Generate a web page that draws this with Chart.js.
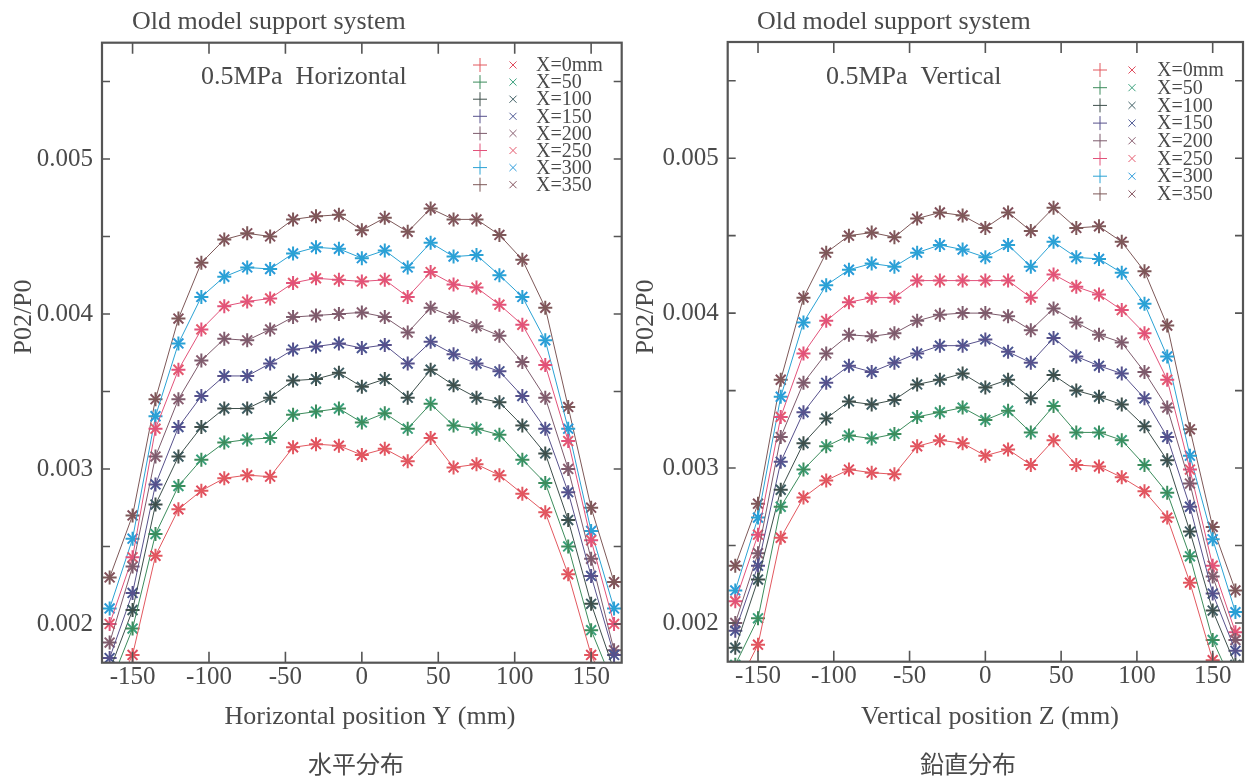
<!DOCTYPE html>
<html>
<head>
<meta charset="utf-8">
<script src="https://cdn.jsdelivr.net/npm/chart.js@4/dist/chart.umd.min.js"></script>
<style>
  html, body { margin: 0; padding: 0; background: #fff; }
  #wrap { position: relative; width: 1245px; height: 781px; overflow: hidden; }
  .panel { position: absolute; top: 0; }
  #left { left: 0; }
  #right { left: 630px; }
</style>
</head>
<body>
<div id="wrap">
  <div class="panel" id="left"><canvas id="chartH" width="630" height="781"></canvas></div>
  <div class="panel" id="right"><canvas id="chartV" width="615" height="781"></canvas></div>
</div>
<script>
// ===========================
// DATA
// ===========================
const positions = [-165, -150, -135, -120, -105, -90, -75, -60, -45, -30, -15, 0,
                   15, 30, 45, 60, 75, 90, 105, 120, 135, 150, 165];
const seriesLabels = ["X=0mm", "X=50", "X=100", "X=150", "X=200", "X=250", "X=300", "X=350"];
const xTicks = [-150, -100, -50, 0, 50, 100, 150];
const yTicks = [0.002, 0.0025, 0.003, 0.0035, 0.004, 0.0045, 0.005, 0.0055];
const yTickLabels = ["0.002", "", "0.003", "", "0.004", "", "0.005", ""];

// horizontal traverse (Y)
const h0   = [0.0015, 0.0018, 0.00244, 0.00274, 0.00286, 0.00294, 0.00296, 0.00295, 0.00314, 0.00316, 0.00315, 0.00309,
              0.00313, 0.00305, 0.00320, 0.00301, 0.00303, 0.00296, 0.00284, 0.00272, 0.00232, 0.0018, 0.0015];
const h50  = [0.0016, 0.00197, 0.00258, 0.00289, 0.00306, 0.00317, 0.00319, 0.0032, 0.00335, 0.00337, 0.00339, 0.00330,
              0.00336, 0.00326, 0.00342, 0.00328, 0.00326, 0.00322, 0.00306, 0.00291, 0.0025, 0.00196, 0.0016];
const h100 = [0.0017, 0.00209, 0.00277, 0.00308, 0.00327, 0.00339, 0.00339, 0.00346, 0.00357, 0.00358, 0.00362, 0.00353,
              0.00358, 0.00346, 0.00364, 0.00354, 0.00346, 0.00343, 0.00328, 0.00310, 0.00267, 0.00213, 0.0017];
const h150 = [0.00178, 0.0022, 0.0029, 0.00327, 0.00347, 0.0036, 0.0036, 0.00368, 0.00377, 0.00379, 0.00381, 0.00378,
              0.0038, 0.00368, 0.00382, 0.00374, 0.00368, 0.00363, 0.00347, 0.00326, 0.00285, 0.00231, 0.0018];
const h200 = [0.00188, 0.00237, 0.00308, 0.00345, 0.0037, 0.00384, 0.00383, 0.0039, 0.00398, 0.00399, 0.004, 0.00401,
              0.00398, 0.00388, 0.00404, 0.00398, 0.00392, 0.00386, 0.00369, 0.00346, 0.003, 0.00242, 0.00183];
const h250 = [0.002, 0.00243, 0.00326, 0.00364, 0.0039, 0.00405, 0.00408, 0.0041, 0.0042, 0.00423, 0.00422, 0.00421,
              0.00422, 0.00411, 0.00427, 0.00419, 0.00417, 0.00406, 0.00393, 0.00367, 0.00318, 0.00254, 0.002];
const h300 = [0.0021, 0.00255, 0.00334, 0.00381, 0.00411, 0.00424, 0.0043, 0.00429, 0.00439, 0.00443, 0.00442, 0.00436,
              0.00441, 0.0043, 0.00446, 0.00437, 0.00438, 0.00425, 0.00411, 0.00383, 0.00326, 0.0026, 0.0021];
const h350 = [0.0023, 0.0027, 0.00345, 0.00397, 0.00433, 0.00448, 0.00452, 0.0045, 0.00461, 0.00463, 0.00464, 0.00454,
              0.00462, 0.00453, 0.00468, 0.00461, 0.00461, 0.00451, 0.00435, 0.00404, 0.0034, 0.00275, 0.00227];

// vertical traverse (Z)
const v0   = [0.00157, 0.00186, 0.00255, 0.00281, 0.00292, 0.00299, 0.00297, 0.00296, 0.00314, 0.00318, 0.00316, 0.00308,
              0.00312, 0.00302, 0.00318, 0.00302, 0.00301, 0.00294, 0.00285, 0.00268, 0.00226, 0.00176, 0.0015];
const v50  = [0.00173, 0.00203, 0.00275, 0.00299, 0.00314, 0.00321, 0.00319, 0.00322, 0.00333, 0.00336, 0.00339, 0.00331,
              0.00337, 0.00323, 0.0034, 0.00323, 0.00323, 0.00318, 0.00302, 0.00284, 0.00243, 0.00189, 0.00157];
const v100 = [0.00184, 0.00228, 0.00286, 0.00316, 0.00332, 0.00343, 0.00341, 0.00344, 0.00354, 0.00357, 0.00361, 0.00352,
              0.00357, 0.00345, 0.0036, 0.0035, 0.00346, 0.00341, 0.00327, 0.00305, 0.00259, 0.00208, 0.00173];
const v150 = [0.00195, 0.00237, 0.00304, 0.00336, 0.00355, 0.00366, 0.00362, 0.00368, 0.00374, 0.00379, 0.00379, 0.00383,
              0.00375, 0.00368, 0.00384, 0.00372, 0.00366, 0.00361, 0.00345, 0.0032, 0.00275, 0.00219, 0.00182];
const v200 = [0.002, 0.00245, 0.0032, 0.00355, 0.00374, 0.00386, 0.00385, 0.00387, 0.00395, 0.00399, 0.004, 0.004,
              0.00398, 0.00389, 0.00403, 0.00394, 0.00386, 0.00381, 0.00362, 0.00339, 0.0029, 0.0023, 0.00189];
const v250 = [0.00214, 0.00257, 0.00333, 0.00374, 0.00395, 0.00407, 0.0041, 0.0041, 0.00421, 0.00421, 0.00421, 0.00421,
              0.00421, 0.0041, 0.00425, 0.00417, 0.00412, 0.00402, 0.00387, 0.00357, 0.00299, 0.00237, 0.00194];
const v300 = [0.00221, 0.00268, 0.00346, 0.00394, 0.00418, 0.00428, 0.00432, 0.0043, 0.00439, 0.00444, 0.00441, 0.00436,
              0.00444, 0.0043, 0.00446, 0.00436, 0.00435, 0.00426, 0.00406, 0.00372, 0.00308, 0.00254, 0.00207];
const v350 = [0.00237, 0.00277, 0.00357, 0.0041, 0.00439, 0.0045, 0.00452, 0.00449, 0.00461, 0.00465, 0.00463, 0.00455,
              0.00465, 0.00453, 0.00468, 0.00455, 0.00456, 0.00446, 0.00427, 0.00392, 0.00325, 0.00262, 0.00221];

// ===========================
// STYLE
// ===========================
const plusColors  = ["#e2585f", "#3c8c5c", "#3e4f4b", "#57518c", "#7d5b6c", "#e2527a", "#2aa2d4", "#7d5858"];
const crossColors = ["#e04c5e", "#3aa07c", "#3f5e64", "#4a5692", "#8a6072", "#e45a6e", "#2a9ada", "#83515c"];
const textColor = "#4a4a4a";
const frameColor = "#555555";
const serif = '"Liberation Serif", "Times New Roman", serif';

function buildDatasets(seriesList) {
    const sets = [];
    seriesList.forEach((vals, i) => {
        const pts = positions.map((p, k) => ({ x: p, y: vals[k] }));
        sets.push({
            label: seriesLabels[i] + " +",
            data: pts,
            showLine: true,
            borderColor: plusColors[i],
            borderWidth: 1,
            pointStyle: "cross",
            pointRadius: 7,
            pointBorderWidth: 2,
            pointBorderColor: plusColors[i],
            pointBackgroundColor: plusColors[i]
        });
        sets.push({
            label: seriesLabels[i] + " x",
            data: pts,
            showLine: false,
            pointStyle: "crossRot",
            pointRadius: 7,
            pointBorderWidth: 2,
            pointBorderColor: crossColors[i],
            pointBackgroundColor: crossColors[i]
        });
    });
    return sets;
}

// ===========================
// PLUGINS
// ===========================
// frame box with inward ticks on all four sides
const frameTicks = {
    id: "frameTicks",
    afterDatasetsDraw(chart) {
        const { ctx, chartArea: a, scales } = chart;
        ctx.save();
        ctx.strokeStyle = frameColor;
        ctx.lineWidth = 1.6;
        xTicks.forEach(v => {
            const px = scales.x.getPixelForValue(v);
            ctx.beginPath();
            ctx.moveTo(px, a.bottom); ctx.lineTo(px, a.bottom - 11);
            ctx.moveTo(px, a.top); ctx.lineTo(px, a.top + 11);
            ctx.stroke();
        });
        yTicks.forEach(v => {
            const py = scales.y.getPixelForValue(v);
            ctx.beginPath();
            ctx.moveTo(a.left, py); ctx.lineTo(a.left + 8, py);
            ctx.moveTo(a.right, py); ctx.lineTo(a.right - 8, py);
            ctx.stroke();
        });
        ctx.lineWidth = 2.2;
        ctx.strokeRect(a.left, a.top, a.right - a.left, a.bottom - a.top);
        ctx.restore();
    }
};

// headings, axis titles, caption and the two-marker legend
const panelText = {
    id: "panelText",
    afterDraw(chart, args, o) {
        const ctx = chart.ctx;
        ctx.save();
        ctx.fillStyle = textColor;
        ctx.textBaseline = "middle";
        ctx.font = "26px " + serif;
        ctx.textAlign = "left";
        ctx.fillText(o.header, o.headerX, 22);
        ctx.fillText(o.note, o.noteX, 77);
        ctx.textAlign = "center";
        ctx.fillText(o.xTitle, o.xTitleX, 717);
        ctx.save();
        ctx.translate(o.yTitleX, 317);
        ctx.rotate(-Math.PI / 2);
        ctx.fillText("P02/P0", 0, 0);
        ctx.restore();
        ctx.font = '24px "Noto Sans CJK JP"';
        ctx.fillText(o.caption, o.captionX, 764);

        // legend rows
        ctx.font = "20px " + serif;
        ctx.textAlign = "left";
        seriesLabels.forEach((lab, i) => {
            const y = o.legendY + i * o.legendStep;
            ctx.strokeStyle = plusColors[i];
            Chart.helpers.drawPoint(ctx, { pointStyle: "cross", radius: 7, borderWidth: 2, rotation: 0 }, o.legendPlusX, y);
            ctx.strokeStyle = crossColors[i];
            Chart.helpers.drawPoint(ctx, { pointStyle: "crossRot", radius: 5, borderWidth: 2, rotation: 0 }, o.legendCrossX, y);
            ctx.fillStyle = textColor;
            ctx.fillText(lab, o.legendTextX, y + 1);
        });
        ctx.restore();
    }
};

function makeChart(canvasId, seriesList, areaLeft, areaRight, areaTop, areaBottom, text) {
    const canvas = document.getElementById(canvasId);
    const W = canvas.width, H = canvas.height;
    return new Chart(canvas.getContext("2d"), {
        type: "scatter",
        data: { datasets: buildDatasets(seriesList) },
        plugins: [frameTicks, panelText],
        options: {
            responsive: false,
            animation: false,
            devicePixelRatio: 1,
            layout: {
                autoPadding: false,
                padding: { left: 0, right: W - areaRight, top: areaTop, bottom: 0 }
            },
            plugins: {
                legend: { display: false },
                tooltip: { enabled: false },
                panelText: text
            },
            scales: {
                x: {
                    type: "linear",
                    min: -170,
                    max: 170,
                    afterBuildTicks: s => { s.ticks = xTicks.map(v => ({ value: v })); },
                    afterFit: s => {
                        s.height = H - areaBottom;
                        s.paddingLeft = 0;
                        s.paddingRight = 0;
                    },
                    grid: { display: false, drawTicks: false },
                    border: { display: false },
                    ticks: {
                        padding: 0,
                        autoSkip: false,
                        maxRotation: 0,
                        color: textColor,
                        font: { family: serif, size: 25 },
                        callback: v => String(v)
                    }
                },
                y: {
                    type: "linear",
                    min: 0.00175,
                    max: 0.00575,
                    afterBuildTicks: s => { s.ticks = yTicks.map(v => ({ value: v })); },
                    afterFit: s => {
                        s.width = areaLeft;
                        s.paddingTop = 0;
                        s.paddingBottom = 0;
                    },
                    grid: { display: false, drawTicks: false },
                    border: { display: false },
                    ticks: {
                        padding: 9,
                        autoSkip: false,
                        color: textColor,
                        font: { family: serif, size: 25 },
                        callback: (v, i) => yTickLabels[i]
                    }
                }
            }
        }
    });
}

makeChart("chartH", [h0, h50, h100, h150, h200, h250, h300, h350], 102, 621.7, 42.7, 662.7, {
    header: "Old model support system", headerX: 132,
    note: "0.5MPa  Horizontal", noteX: 201,
    xTitle: "Horizontal position Y (mm)", xTitleX: 370,
    yTitleX: 24,
    caption: "水平分布", captionX: 356,
    legendPlusX: 480, legendCrossX: 513, legendTextX: 536, legendY: 65, legendStep: 17.1
});

makeChart("chartV", [v0, v50, v100, v150, v200, v250, v300, v350], 97.7, 613, 42, 661.7, {
    header: "Old model support system", headerX: 127,
    note: "0.5MPa  Vertical", noteX: 196,
    xTitle: "Vertical position Z (mm)", xTitleX: 360,
    yTitleX: 16,
    caption: "鉛直分布", captionX: 338,
    legendPlusX: 470, legendCrossX: 502, legendTextX: 527, legendY: 70, legendStep: 17.7
});
</script>
</body>
</html>
